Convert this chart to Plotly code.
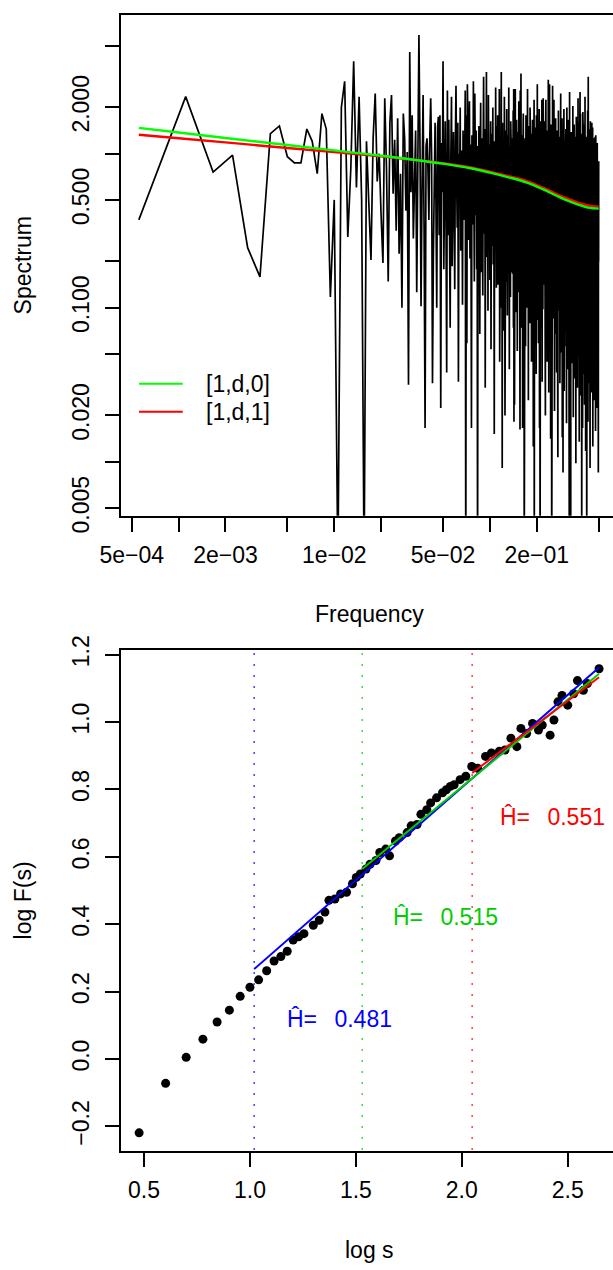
import plotly.graph_objects as go

# ---------------- data: top panel (periodogram) ----------------
N_SERIES = 1800
spec_j = list(range(1, 901))          # Fourier index, f = j / 1800

# log10 spectrum values (j = 1..900)
spec_log10 = [
    # j 1-45
    -0.43, 0.37, -0.12, -0.01, -0.61, -0.80, 0.13, 0.18, -0.02, -0.06,
    -0.06, 0.16, 0.08, -0.13, 0.26, 0.16, -0.93, -0.30, -2.70, 0.30,
    0.47, -0.54, -0.10, 0.60, -0.22, 0.37, -0.30, -2.70, 0.08, -0.30,
    -0.69, 0.10, 0.39, -0.18, 0.00, -0.40, -0.71, 0.36, -0.10, -0.83,
    0.20, 0.38, -0.26, 0.09, -0.50,
    # j 46-150
    0.23, -0.65, -0.13, -1.00, 0.26, 0.10, -0.37, 0.01, -1.50, 0.66,
    -0.25, 0.25, -0.55, -0.07, 0.15, -0.90, -0.20, 0.77, 0.05, -0.99,
    -0.20, 0.38, -0.50, -1.78, 0.05, 0.10, -0.10, -0.43, 0.11, 0.36,
    -0.01, -1.49, -0.67, -0.17, 0.20, -0.30, -1.00, 0.17, 0.24, -0.53,
    0.25, -1.65, 0.07, -0.25, 0.60, -0.75, -0.11, 0.21, -0.40, -1.42,
    0.41, -0.53, 0.22, -0.28, -1.13, -0.03, 0.37, -0.73, -0.18, 0.14,
    -0.38, -0.88, 0.07, 0.44, -0.13, -0.48, 0.20, -1.48, 0.00, -0.26,
    0.30, -0.63, -0.33, 0.02, -0.98, 0.15, -0.08, -0.43, 0.10, 0.41,
    -2.80, 0.25, -1.23, 0.45, 0.17, -0.56, -0.16, 0.34, -0.68, 0.06,
    -0.36, -1.78, 0.12, -0.02, -0.46, 0.47, -0.23, -0.83, 0.39, -0.10,
    -0.40, 0.15, -0.75, 0.05, -2.80,
    # j 151-200
    0.00, -0.57, 0.18, -0.32, -1.17, -0.07, 0.33, -0.77, -0.22, 0.10,
    -0.42, -0.92, 0.03, 0.50, -0.17, -0.52, 0.16, -1.52, -0.04, -0.30,
    0.53, -0.67, -0.37, -0.02, -1.02, 0.38, -0.12, -0.47, 0.06, -0.82,
    -0.24, 0.21, -1.27, -0.10, 0.13, -0.60, -0.20, 0.30, -0.72, 0.02,
    -0.40, -1.82, 0.08, -0.06, -0.50, 0.43, -0.27, -0.87, 0.18, -0.14,
    # j 201-250
    -0.37, 0.25, -0.85, -0.05, -0.50, 0.11, 0.42, -1.35, -0.20, -0.65,
    0.03, -0.30, 0.53, -1.00, -0.12, -2.04, 0.20, -0.75, -1.15, 0.07,
    -0.07, -0.57, 0.37, -0.27, -1.70, 0.01, -0.40, 0.15, -0.83, -0.15,
    0.29, -0.48, -1.05, -0.03, 0.12, -0.33, -0.70, 0.43, -0.23, -1.40,
    0.05, -0.55, -0.10, -0.93, 0.21, -0.25, -0.01, -0.77, 0.09, -0.45,
    # j 251-300
    0.10, -0.78, -0.26, 0.28, -1.13, 0.42, -1.74, -0.12, -1.63, 0.16,
    -0.38, 0.42, -0.68, -0.20, 0.02, -1.03, 0.22, -0.46, -0.08, -1.28,
    -0.33, 0.14, -0.63, 0.06, -0.90, 0.34, -0.23, -0.56, -0.02, -1.48,
    -1.79, 0.41, -0.80, -0.30, 0.52, -0.43, -1.13, 0.04, -0.18, -0.66,
    0.12, -1.78, -0.06, -0.38, 0.26, -0.88, -0.24, 0.08, -2.80, -0.10,
    # j 301-350
    -0.08, -0.65, 0.10, -0.40, -1.25, -0.15, 0.25, -0.85, -0.30, 0.02,
    -0.50, -1.00, -0.05, 0.42, -0.25, -0.60, 0.08, -1.60, -0.12, -0.38,
    0.18, -0.75, -0.45, -0.10, -1.10, 0.30, -0.20, -0.55, -0.02, -0.90,
    -0.32, 0.13, -1.35, -0.18, 0.05, -0.68, -0.28, 0.22, -0.80, -0.06,
    -0.48, -1.90, 0.00, -0.14, -0.58, 0.35, -2.80, -0.95, 0.10, -0.22,
    # j 351-400
    -0.45, 0.17, -0.93, -0.13, -0.58, 0.03, -1.43, 0.25, -0.28, -0.73,
    -0.05, -0.38, 0.45, -1.08, -0.20, -0.53, 0.12, -0.83, -1.23, -0.01,
    -0.15, -0.65, 0.29, -0.35, -1.78, -0.07, -0.48, -2.80, -0.91, -0.23,
    0.21, -0.56, -1.13, -0.11, 0.04, -0.41, -0.78, 0.35, -0.31, -1.48,
    -0.03, -0.63, -0.18, -1.01, 0.13, 0.36, -0.09, -0.85, 0.01, -0.53,
    # j 401-450
    0.03, -0.85, -0.33, 0.21, -1.20, -0.10, -0.57, -0.19, -1.70, 0.09,
    -0.45, 0.35, -0.75, -0.27, -0.05, -1.10, 0.15, -0.53, -0.15, -1.35,
    -0.40, 0.07, -0.70, -0.01, -0.97, 0.27, 0.48, -0.63, -0.09, -1.55,
    -0.21, 0.13, -0.87, -0.37, 0.45, -0.50, -1.20, -0.03, -0.25, -0.73,
    0.05, -1.85, -0.13, -0.45, 0.19, -0.95, -0.31, 0.01, -2.80, -0.17,
    # j 451-500
    -0.15, -0.72, 0.03, -1.32, 0.44, -0.22, 0.18, -0.92, -0.37, -0.05,
    -0.57, -1.07, -0.12, 0.35, -0.32, -0.67, 0.01, -1.67, -0.19, -0.45,
    0.11, -0.82, -0.52, -0.17, -1.17, 0.23, -0.27, -0.62, -0.09, -0.97,
    -0.39, 0.06, -1.42, -0.25, -0.02, -0.75, -0.35, 0.15, -0.87, -0.13,
    -0.55, -1.97, -0.07, -0.21, -0.65, 0.28, -0.42, -1.02, 0.03, -0.29,
    # j 501-550
    -0.51, 0.11, -0.99, -0.19, -0.64, -0.03, -1.49, 0.19, -0.34, -0.79,
    -0.11, -0.44, 0.39, -1.14, -0.26, -0.59, 0.06, -0.89, -1.29, -0.07,
    -0.21, -0.71, 0.23, -0.41, -1.84, -0.13, -0.54, 0.01, -0.97, -0.29,
    -2.07, 0.15, -1.19, -0.17, -0.02, -0.47, -0.84, 0.29, -0.37, -1.54,
    -0.09, -0.69, -0.24, -1.07, 0.07, -0.39, -0.15, -0.91, -0.05, -0.59,
    # j 551-600
    -0.02, -0.90, -0.38, 0.16, -1.25, -0.15, -0.62, -0.24, -1.75, 0.04,
    -0.50, 0.30, -0.80, -0.32, -0.10, -1.15, 0.10, -0.58, -0.20, -1.40,
    -0.45, 0.02, -0.75, -0.06, -1.02, 0.22, -0.35, -0.68, -0.14, -1.60,
    -0.26, 0.08, -2.80, -0.42, 0.40, -0.55, -1.25, -0.08, 0.36, -0.78,
    0.00, -1.90, -0.18, -0.50, -2.80, 0.14, -0.36, -0.04, -0.65, -0.22,
    # j 601-650
    -0.19, -0.76, -0.01, -0.51, -1.36, -0.26, 0.14, -0.96, -0.41, -0.09,
    -0.61, -1.11, -0.16, 0.31, -0.36, -0.71, -0.03, -1.71, -0.23, -0.49,
    0.07, -0.86, -0.56, -0.21, -1.21, 0.19, -0.31, -0.66, -0.13, -1.01,
    -0.43, 0.02, -1.46, -0.29, -0.06, -0.79, -0.39, 0.11, -0.91, -0.17,
    -0.59, -2.01, -0.11, -0.25, -0.69, 0.24, -0.46, -1.06, -0.01, -0.33,
    # j 651-700
    -0.54, 0.08, -1.02, -0.22, -0.67, -0.06, -1.52, 0.16, -0.37, -0.82,
    -0.14, -0.47, 0.36, -1.17, -0.29, -0.62, 0.03, -0.92, -1.32, -0.10,
    -0.24, -0.74, 0.20, -0.44, -1.87, -0.16, -0.57, -0.02, -1.00, -0.32,
    0.12, -0.65, 0.40, -1.22, -0.05, -0.50, -0.87, 0.26, -0.40, -1.57,
    -0.12, -0.72, -0.27, -1.10, 0.04, -0.42, -0.18, -0.94, -0.08, -2.80,
    # j 701-750
    -0.05, -0.93, -0.41, 0.13, -1.28, -0.18, -0.65, -0.27, -1.78, 0.01,
    -0.53, 0.27, -0.83, -0.35, -0.13, -1.18, 0.07, -0.61, -0.23, -1.43,
    -0.48, -0.01, -0.78, -0.09, -1.05, 0.19, -0.38, -0.71, -0.17, -1.63,
    -0.29, 0.05, -0.95, -0.45, 0.37, -0.58, -1.28, -0.11, -0.33, -0.81,
    -0.03, -1.93, -0.21, -0.53, 0.11, -1.03, -0.39, -0.07, -0.68, -0.25,
    # j 751-800
    -0.22, -0.79, -0.04, -2.80, -1.39, -0.29, 0.11, -0.99, -0.44, -0.12,
    -0.64, -1.14, -0.19, 0.28, -0.39, -0.74, -0.06, -1.74, -0.26, -0.52,
    0.50, -0.89, -0.59, -0.24, -1.24, 0.16, -0.34, -0.69, -0.16, -1.04,
    -0.46, -0.01, -1.49, -0.32, -0.09, -0.82, -0.42, 0.08, -0.94, -0.20,
    -0.62, -2.04, -0.14, -0.28, -0.72, 0.21, -0.49, -1.09, -0.04, -0.36,
    # j 801-850
    -0.57, 0.05, -1.05, -0.25, -0.70, -0.09, -1.55, 0.13, -0.40, -0.85,
    -0.17, -0.50, 0.20, -1.20, -0.32, -0.65, 0.00, -0.95, -1.35, -0.13,
    -0.27, -0.77, 0.17, -0.47, -1.90, -0.19, -0.60, -0.05, -1.03, -1.88,
    0.09, -0.68, -1.25, -0.23, -0.08, -0.53, -0.90, 0.10, -0.43, -1.60,
    -0.15, -0.75, -0.30, -1.13, 0.01, -0.45, -0.21, -0.97, -0.11, -0.65,
    # j 851-900
    -0.07, -0.95, -0.43, 0.11, -1.30, -0.20, -0.67, -0.29, -1.80, -0.01,
    -0.55, 0.12, -0.85, -0.37, -0.15, -1.20, 0.05, -0.63, -0.25, -1.45,
    -0.50, -0.03, -0.80, -0.11, -1.07, 0.05, -0.40, -0.73, -0.19, -1.65,
    0.07, 0.03, -0.97, -0.47, -0.05, -0.60, -1.30, -0.13, -0.35, -0.83,
    -0.05, -1.95, -0.23, -0.55, -2.07, -1.05, -0.41, -0.09, -0.70, -0.05,
]
n_pts = min(len(spec_j), len(spec_log10))
spec_freq = [j / N_SERIES for j in spec_j[:n_pts]]
spec_val = [10 ** v for v in spec_log10[:n_pts]]

# fitted spectral densities (log10)
fit_freq = [5.556e-4, 1e-3, 2e-3, 5e-3, 0.01, 0.017, 0.03, 0.05, 0.075,
            0.1, 0.13, 0.173, 0.22, 0.268, 0.31, 0.361, 0.43, 0.5]
fit_d0_log10 = [0.167, 0.137, 0.102, 0.056, 0.021, -0.005, -0.035, -0.065, -0.095,
                -0.123, -0.152, -0.188, -0.232, -0.273, -0.302, -0.327, -0.350, -0.357]
fit_d1_log10 = [0.123, 0.100, 0.073, 0.037, 0.010, -0.010, -0.036, -0.062, -0.089,
                -0.117, -0.145, -0.178, -0.221, -0.262, -0.289, -0.314, -0.336, -0.344]
legend_labels = ["[1,d,0]", "[1,d,1]"]

top_tick_vals = [5e-4, 1e-3, 2e-3, 5e-3, 1e-2, 2e-2, 5e-2, 1e-1, 2e-1, 5e-1]
top_tick_text = ["5e\u221204", "", "2e\u221203", "", "1e\u221202", "", "5e\u221202", "", "2e\u221201", ""]
left_tick_vals = [0.005, 0.01, 0.02, 0.05, 0.1, 0.2, 0.5, 1, 2, 5]
left_tick_text = ["0.005", "", "0.020", "", "0.100", "", "0.500", "", "2.000", ""]

# ---------------- data: bottom panel (DFA) ----------------
dfa_logs = [0.477, 0.602, 0.699, 0.778, 0.845, 0.903, 0.954, 1.000, 1.041, 1.079,
            1.114, 1.146, 1.176, 1.204, 1.230, 1.255, 1.299, 1.327, 1.354, 1.373,
            1.401, 1.428, 1.456, 1.484, 1.502, 1.521, 1.548, 1.567, 1.595, 1.613,
            1.641, 1.659, 1.687, 1.705, 1.742, 1.761, 1.789, 1.807, 1.835, 1.853,
            1.881, 1.909, 1.927, 1.946, 1.964, 1.992, 2.019, 2.047, 2.075, 2.112,
            2.140, 2.177, 2.204, 2.232, 2.260, 2.279, 2.306, 2.334, 2.362, 2.380,
            2.417, 2.435, 2.454, 2.473, 2.500, 2.528, 2.546, 2.574, 2.593, 2.648]
dfa_logF = [-0.219, -0.072, 0.005, 0.059, 0.110, 0.145, 0.186, 0.213, 0.235, 0.262,
            0.291, 0.304, 0.320, 0.353, 0.363, 0.372, 0.397, 0.412, 0.436, 0.471,
            0.475, 0.490, 0.495, 0.520, 0.539, 0.549, 0.564, 0.578, 0.589, 0.613,
            0.623, 0.603, 0.647, 0.657, 0.672, 0.692, 0.696, 0.726, 0.740, 0.760,
            0.775, 0.790, 0.799, 0.809, 0.814, 0.829, 0.839, 0.868, 0.863, 0.898,
            0.908, 0.913, 0.917, 0.952, 0.927, 0.981, 0.966, 0.996, 0.976, 0.991,
            0.961, 1.006, 1.060, 1.079, 1.050, 1.084, 1.123, 1.094, 1.114, 1.158]

fit_colors = ["#0000FF", "#00CD00", "#FF0000"]
fit_x = [[1.02, 2.648], [1.53, 2.648], [2.049, 2.648]]
fit_y = [[0.267, 1.162], [0.564, 1.143], [0.849, 1.133]]
cut_x = [1.02, 1.53, 2.049]
h_text = ["0.481", "0.515", "0.551"]
h_pos = [(1.165, 0.118), (1.666, 0.4215), (2.171, 0.7175)]

bot_xticks = [0.5, 1.0, 1.5, 2.0, 2.5]
bot_xtext = ["0.5", "1.0", "1.5", "2.0", "2.5"]
bot_yticks = [-0.2, 0.0, 0.2, 0.4, 0.6, 0.8, 1.0, 1.2]
bot_ytext = ["\u22120.2", "0.0", "0.2", "0.4", "0.6", "0.8", "1.0", "1.2"]

# ---------------- layout geometry ----------------
W, H = 613, 1270
ML, MR, MT, MB = 121, 0, 6, 119
PW, PH = W - ML - MR, H - MT - MB


def py(p):
    return (H - MB - p) / PH


def px(p):
    return (p - ML) / PW


FONT = "Liberation Sans, Arial, Helvetica, sans-serif"
FS = 23
LW = 1.6

fig = go.Figure()

# top panel traces
fig.add_trace(go.Scatter(x=spec_freq, y=spec_val, mode="lines",
                         line=dict(color="black", width=1.7), xaxis="x", yaxis="y",
                         showlegend=False, hoverinfo="skip"))
fig.add_trace(go.Scatter(x=fit_freq, y=[10 ** v for v in fit_d1_log10], mode="lines",
                         line=dict(color="#FF0000", width=2.4, shape="spline"),
                         xaxis="x", yaxis="y", showlegend=False))
fig.add_trace(go.Scatter(x=fit_freq, y=[10 ** v for v in fit_d0_log10], mode="lines",
                         line=dict(color="#00FF00", width=2.4, shape="spline"),
                         xaxis="x", yaxis="y", showlegend=False))

# bottom panel traces
for xc, col in zip(cut_x, fit_colors):
    fig.add_trace(go.Scatter(x=[xc, xc], y=[-0.4, 1.4], mode="lines",
                             line=dict(color=col, width=1.5, dash="1.5px,9.5px"),
                             xaxis="x2", yaxis="y2", showlegend=False))
fig.add_trace(go.Scatter(x=dfa_logs, y=dfa_logF, mode="markers",
                         marker=dict(color="black", size=9, line=dict(width=0)),
                         xaxis="x2", yaxis="y2", showlegend=False))
for fx, fy, col in zip(fit_x, fit_y, fit_colors):
    fig.add_trace(go.Scatter(x=fx, y=fy, mode="lines", line=dict(color=col, width=2),
                             xaxis="x2", yaxis="y2", showlegend=False))

axis_common = dict(showline=True, linecolor="black", linewidth=LW, ticks="outside",
                   ticklen=14, tickwidth=LW, tickcolor="black", showgrid=False,
                   zeroline=False, tickfont=dict(family=FONT, size=FS, color="black"))

fig.update_layout(
    width=W, height=H, margin=dict(l=ML, r=MR, t=MT, b=MB),
    paper_bgcolor="white", plot_bgcolor="white", showlegend=False,
    xaxis=dict(domain=[0, 1], anchor="y", type="log", range=[-3.3698, -0.2092],
               mirror=True, tickmode="array", tickvals=top_tick_vals,
               ticktext=top_tick_text, ticklabelstandoff=4, **axis_common),
    yaxis=dict(domain=[py(510.7), 1], anchor="x", type="log", range=[-2.350, 0.900],
               tickmode="array", tickvals=left_tick_vals, ticktext=left_tick_text,
               tickangle=-90, ticklabelstandoff=7, **axis_common),
    xaxis2=dict(domain=[0, 1], anchor="y2", range=[0.3914, 2.7138], mirror=True,
                tickmode="array", tickvals=bot_xticks, ticktext=bot_xtext,
                ticklabelstandoff=4, **axis_common),
    yaxis2=dict(domain=[0, py(646)], anchor="x2", range=[-0.2728, 1.2138],
                tickmode="array", tickvals=bot_yticks, ticktext=bot_ytext,
                tickangle=-90, ticklabelstandoff=7, **axis_common),
)

ann = []
tfont = dict(family=FONT, size=FS, color="black")
ann.append(dict(text="Spectrum", x=px(23), y=py(258.4), xref="paper", yref="paper",
                textangle=-90, showarrow=False, font=tfont, xanchor="center", yanchor="middle"))
ann.append(dict(text="Frequency", x=px(369), y=py(610), xref="paper", yref="paper",
                showarrow=False, font=tfont, xanchor="center", yanchor="middle"))
ann.append(dict(text="log F(s)", x=px(23), y=py(898.4), xref="paper", yref="paper",
                textangle=-90, showarrow=False, font=tfont, xanchor="center", yanchor="middle"))
ann.append(dict(text="log s", x=px(369), y=py(1251), xref="paper", yref="paper",
                showarrow=False, font=tfont, xanchor="center", yanchor="middle"))

# legend (top panel)
leg_colors = ["#00FF00", "#FF0000"]
leg_y = [377.7, 406.0]
shapes = []
for lab, col, yy in zip(legend_labels, leg_colors, leg_y):
    shapes.append(dict(type="line", xref="paper", yref="paper", x0=px(139), x1=px(182.8),
                       y0=py(yy), y1=py(yy), line=dict(color=col, width=2)))
    ann.append(dict(text=lab, x=px(203.6), y=py(yy), xref="paper", yref="paper",
                    showarrow=False, font=tfont, xanchor="left", yanchor="middle"))

# H-hat labels (bottom panel)
for (hx, hy), txt, col in zip(h_pos, h_text, fit_colors):
    f = dict(family=FONT, size=FS, color=col)
    ann.append(dict(text="\u0124=\u00a0\u00a0\u2009" + txt, x=hx, y=hy, xref="x2", yref="y2",
                    showarrow=False, font=f, xanchor="left", yanchor="middle"))

fig.update_layout(annotations=ann, shapes=shapes)
fig.write_html("out.html", config={"displayModeBar": False})
